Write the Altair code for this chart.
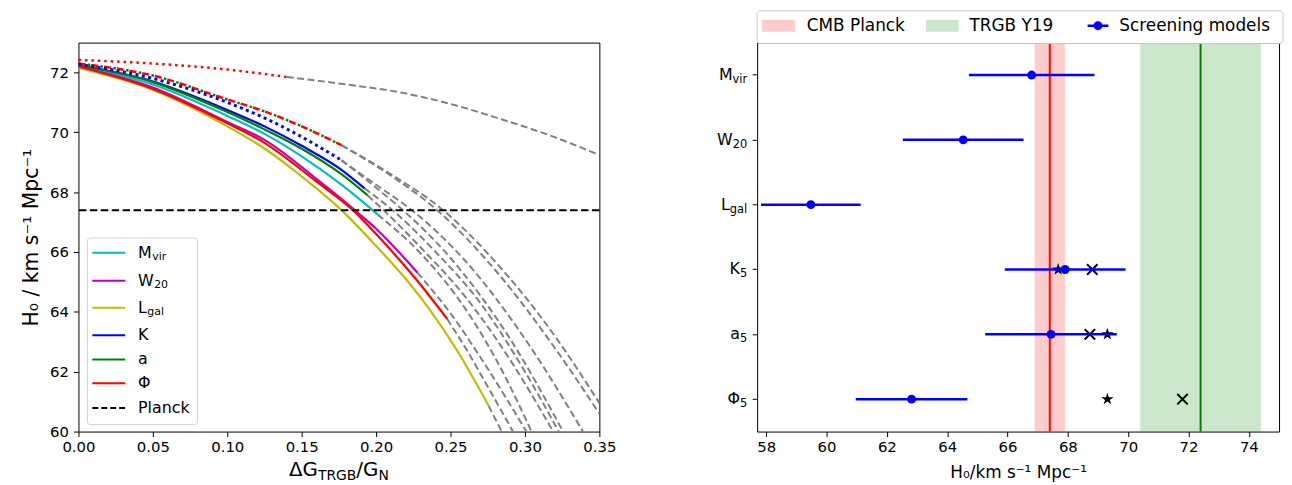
import altair as alt
import pandas as pd

# ===================== DATA =====================
# Left panel: H0 vs dG_TRGB/G_N, solid curves for each proxy
mvir_x = [0, 0.05, 0.10, 0.125, 0.15, 0.1767, 0.2011]
mvir_y = [72.2, 71.6, 70.55, 69.95, 69.2, 68.25, 67.25]
w20_x = [0, 0.05, 0.10, 0.125, 0.1622, 0.1856, 0.20, 0.2278]
w20_y = [72.2, 71.5, 70.35, 69.75, 68.35, 67.4, 66.78, 65.31]
lgal_x = [0, 0.05, 0.10, 0.125, 0.1544, 0.1767, 0.20, 0.2211, 0.2356, 0.2544, 0.2756]
lgal_y = [72.15, 71.42, 70.2, 69.46, 68.35, 67.4, 66.2, 65.03, 64.1, 62.71, 60.86]
k_x = [0, 0.05, 0.10, 0.125, 0.15, 0.1767, 0.1922]
k_y = [72.25, 71.7, 70.75, 70.2, 69.55, 68.75, 68.13]
a_x = [0, 0.05, 0.10, 0.125, 0.15, 0.1767, 0.1944]
a_y = [72.25, 71.68, 70.68, 70.1, 69.45, 68.6, 67.89]
phi_x = [0, 0.05, 0.10, 0.125, 0.16, 0.1844, 0.20, 0.2278, 0.2478]
phi_y = [72.2, 71.45, 70.3, 69.65, 68.35, 67.4, 66.6, 65.03, 63.76]

# dotted / dashed variants
phidot_x = [0, 0.05, 0.10, 0.14]
phidot_y = [72.42, 72.3, 72.1, 71.85]
dashdot_x = [0, 0.05, 0.10, 0.125, 0.15, 0.1767]
dashdot_y = [72.3, 71.9, 71.1, 70.7, 70.2, 69.57]
kdot_x = [0, 0.05, 0.10, 0.125, 0.15, 0.1767]
kdot_y = [72.28, 71.8, 71.0, 70.48, 69.85, 69.07]

# grey dashed continuations
ext_lgal_x = [0.2756, 0.2844]
ext_lgal_y = [60.86, 60.0]
ext_phi_x = [0.2478, 0.26, 0.275, 0.292]
ext_phi_y = [63.76, 62.8, 61.5, 60.0]
ext_w20_x = [0.2278, 0.25, 0.275, 0.301]
ext_w20_y = [65.31, 63.95, 62.1, 60.0]
ext_mvir_x = [0.2011, 0.23, 0.26, 0.285, 0.3044]
ext_mvir_y = [67.25, 65.95, 64.1, 62.0, 60.0]
ext_a_x = [0.1944, 0.205, 0.23, 0.26, 0.29, 0.319]
ext_a_y = [67.89, 67.4, 66.15, 64.5, 62.4, 60.0]
ext_k_x = [0.1922, 0.211, 0.24, 0.27, 0.30, 0.3227]
ext_k_y = [68.13, 67.4, 66.0, 64.3, 62.0, 60.0]
ext_adot_x = [0.1767, 0.20, 0.218, 0.25, 0.29, 0.3256]
ext_adot_y = [69.07, 68.15, 67.4, 65.8, 63.1, 60.0]
ext_kdot_x = [0.1767, 0.20, 0.224, 0.26, 0.30, 0.339]
ext_kdot_y = [69.07, 68.25, 67.4, 65.7, 63.1, 60.0]
ext_phidash_x = [0.1767, 0.21, 0.241, 0.28, 0.32, 0.35]
ext_phidash_y = [69.57, 68.55, 67.4, 65.4, 62.8, 60.6]
ext_adash_x = [0.1767, 0.21, 0.245, 0.285, 0.32, 0.35]
ext_adash_y = [69.57, 68.6, 67.4, 65.4, 63.2, 60.95]
ext_phidot_x = [0.14, 0.18, 0.2167, 0.25, 0.2833, 0.3167, 0.35]
ext_phidot_y = [71.85, 71.6, 71.33, 70.95, 70.45, 69.9, 69.24]

planck_h0 = 67.4
planck_err = 0.5
trgb_h0 = 72.4
trgb_err = 2.0

x_ticks_left = [0.0, 0.05, 0.10, 0.15, 0.20, 0.25, 0.30, 0.35]
y_ticks_left = [60, 62, 64, 66, 68, 70, 72]

# Right panel
proxy_names = ["Mvir", "W20", "Lgal", "K5", "a5", "Phi5"]
proxy_base = ["M", "W", "L", "K", "a", "Φ"]
proxy_sub = ["vir", "20", "gal", "5", "5", "5"]
h0_screen = [66.8, 64.53, 59.48, 67.91, 67.44, 62.82]
h0_err = [2.08, 2.0, 1.65, 2.0, 2.18, 1.85]
star_proxy = ["K5", "a5", "Phi5"]
star_h0 = [67.68, 69.31, 69.31]
cross_proxy = ["K5", "a5", "Phi5"]
cross_h0 = [68.81, 68.73, 71.8]
x_ticks_right = [58, 60, 62, 64, 66, 68, 70, 72, 74]

# ===================== STYLE / LAYOUT =====================
FONT = "DejaVu Sans"
CYAN, MAG, YEL, BLUE, GREEN, RED, GREY = "#00bfbf", "#bf00bf", "#bfbf00", "#0000ff", "#008000", "#ff0000", "#808080"
WL, WR, H = 525, 526, 392

CW = {"M": 0.863, "W": 0.989, "L": 0.557, "K": 0.656, "a": 0.613, "Φ": 0.790,
      "v": 0.592, "i": 0.278, "r": 0.411, "g": 0.635, "l": 0.278, "0": 0.636,
      "2": 0.636, "5": 0.636, "Δ": 0.684, "G": 0.775, "T": 0.611, "R": 0.695,
      "B": 0.686, "N": 0.748, "/": 0.337}


def tw(s, size):
    return sum(CW.get(c, 0.6) for c in s) * size


def long(curves):
    rows = []
    for name, xs, ys in curves:
        for i, (a, b) in enumerate(zip(xs, ys)):
            rows.append({"series": name, "x": a, "y": b, "i": i})
    return pd.DataFrame(rows)


dummy = pd.DataFrame({"d": [0]})

# ===================== LEFT PANEL =====================
xsc = alt.Scale(domain=[0, 0.35], nice=False, zero=False)
ysc = alt.Scale(domain=[60, 73], nice=False, zero=False)
x_axis_l = alt.Axis(values=x_ticks_left, format=".2f", title=None, labelFlush=False,
                    labelOverlap=False, tickSize=5, labelPadding=3, labelFontSize=15)
y_axis_l = alt.Axis(values=y_ticks_left, title="H₀ / km s⁻¹ Mpc⁻¹", titleFontSize=20.5,
                    titlePadding=8, tickSize=5, labelPadding=5, labelFontSize=15)
XL = alt.X("x:Q", scale=xsc, axis=x_axis_l)
YL = alt.Y("y:Q", scale=ysc, axis=y_axis_l)

solid_df = long([("Mvir", mvir_x, mvir_y), ("W20", w20_x, w20_y), ("Lgal", lgal_x, lgal_y),
                 ("K", k_x, k_y), ("a", a_x, a_y), ("Phi", phi_x, phi_y)])
grey_df = long([("e1", ext_lgal_x, ext_lgal_y), ("e2", ext_phi_x, ext_phi_y),
                ("e3", ext_w20_x, ext_w20_y), ("e4", ext_mvir_x, ext_mvir_y),
                ("e5", ext_a_x, ext_a_y), ("e6", ext_k_x, ext_k_y),
                ("e7", ext_adot_x, ext_adot_y), ("e8", ext_kdot_x, ext_kdot_y),
                ("e9", ext_phidash_x, ext_phidash_y), ("e10", ext_adash_x, ext_adash_y),
                ("e11", ext_phidot_x, ext_phidot_y)])

grey = alt.Chart(grey_df).mark_line(color=GREY, strokeWidth=2, strokeDash=[7, 3.5],
                                    interpolate="monotone", clip=True).encode(
    x=XL, y=YL, detail="series:N", order="i:Q")
solid = alt.Chart(solid_df).mark_line(strokeWidth=2.2, interpolate="monotone", clip=True).encode(
    x=XL, y=YL, order="i:Q",
    color=alt.Color("series:N", legend=None,
                    scale=alt.Scale(domain=["Mvir", "W20", "Lgal", "K", "a", "Phi"],
                                    range=[CYAN, MAG, YEL, BLUE, GREEN, RED])))
phidot = alt.Chart(long([("pd", phidot_x, phidot_y)])).mark_line(
    color=RED, strokeWidth=2.5, strokeDash=[2.5, 4], interpolate="monotone").encode(x=XL, y=YL, order="i:Q")
dd_df = long([("dd", dashdot_x, dashdot_y)])
dd_red = alt.Chart(dd_df).mark_line(color=RED, strokeWidth=2.5, strokeDash=[7, 6],
                                    interpolate="monotone").encode(x=XL, y=YL, order="i:Q")
dd_green = alt.Chart(dd_df).mark_line(color=GREEN, strokeWidth=2.5, strokeDash=[2.5, 10.5], strokeDashOffset=3.5,
                                      interpolate="monotone").encode(x=XL, y=YL, order="i:Q")
kdot = alt.Chart(long([("kd", kdot_x, kdot_y)])).mark_line(
    color=BLUE, strokeWidth=3, strokeDash=[3, 3.5], interpolate="monotone").encode(x=XL, y=YL, order="i:Q")
planck_rule = alt.Chart(pd.DataFrame({"y": [planck_h0]})).mark_rule(
    color="black", strokeWidth=2, strokeDash=[7.5, 3.5]).encode(y=YL)

left_layers = [grey, solid, phidot, dd_red, dd_green, kdot, planck_rule]

# legend (left)
left_layers.append(alt.Chart(dummy).mark_rect(fill="white", stroke="#cccccc", strokeWidth=1,
                                              cornerRadius=3, opacity=0.9).encode(
    x=alt.value(9), x2=alt.value(120), y=alt.value(197), y2=alt.value(385)))
leg_rows = [("M", "vir", CYAN, None), ("W", "20", MAG, None), ("L", "gal", YEL, None),
            ("K", "", BLUE, None), ("a", "", GREEN, None), ("Φ", "", RED, None),
            ("Planck", "", "black", [6, 3])]
leg_y = [211.7, 240, 267.3, 295, 319.3, 343.3, 368.3]
for (base, sub, col, dash), ly in zip(leg_rows, leg_y):
    rule_kw = dict(color=col, strokeWidth=2)
    if dash:
        rule_kw["strokeDash"] = dash
    left_layers.append(alt.Chart(dummy).mark_rule(**rule_kw).encode(
        x=alt.value(14), x2=alt.value(47), y=alt.value(ly)))
    left_layers.append(alt.Chart(dummy).mark_text(text=base, align="left", baseline="middle",
                                                  fontSize=16, font=FONT, color="black").encode(
        x=alt.value(60), y=alt.value(ly)))
    if sub:
        left_layers.append(alt.Chart(dummy).mark_text(text=sub, align="left", baseline="middle",
                                                      fontSize=11, font=FONT, color="black").encode(
            x=alt.value(60 + tw(base, 16) + 0.5), y=alt.value(ly + 4)))

# x-axis title with subscripts: ΔG_TRGB / G_N
pieces = [("ΔG", 20, 0), ("TRGB", 14, 4), ("/G", 20, 0), ("N", 14, 4)]
total = sum(tw(s, f) for s, f, _ in pieces)
cx = WL / 2 - total / 2
for s, f, drop in pieces:
    left_layers.append(alt.Chart(dummy).mark_text(text=s, align="left", baseline="alphabetic",
                                                  fontSize=f, font=FONT, color="black").encode(
        x=alt.value(cx), y=alt.value(H + 45 + drop)))
    cx += tw(s, f)

left = alt.layer(*left_layers).properties(width=WL, height=H)

# ===================== RIGHT PANEL =====================
rx = alt.Scale(domain=[57.7, 75.0], nice=False, zero=False)
ry = alt.Scale(domain=proxy_names)
x_axis_r = alt.Axis(values=x_ticks_right, title="H₀/km s⁻¹ Mpc⁻¹", titleFontSize=17,
                    titlePadding=10, labelFlush=False, labelOverlap=False, tickSize=5,
                    labelPadding=3, labelFontSize=15)
y_axis_r = alt.Axis(labels=False, title=None, tickSize=5)
XR = alt.X("h0:Q", scale=rx, axis=x_axis_r)
YR = alt.Y("proxy:N", scale=ry, axis=y_axis_r, sort=proxy_names)

screen_df = pd.DataFrame({"proxy": proxy_names, "h0": h0_screen, "err": h0_err,
                          "base": proxy_base, "sub": proxy_sub})


def band_layers(center, err, col):
    d = pd.DataFrame({"h0": [center], "err": [err]})
    rect = alt.Chart(d).transform_calculate(
        lo="datum.h0 - datum.err", hi="datum.h0 + datum.err").mark_rect(
        color=col, opacity=0.2).encode(x=alt.X("lo:Q", scale=rx, axis=x_axis_r), x2="hi:Q")
    line = alt.Chart(d).mark_rule(color=col, strokeWidth=2).encode(x=XR)
    return rect, line


pl_rect, pl_line = band_layers(planck_h0, planck_err, RED)
tr_rect, tr_line = band_layers(trgb_h0, trgb_err, GREEN)

STAR = ("M0,-1L0.2233,-0.3074L0.9511,-0.309L0.3614,0.1174L0.5878,0.809L0,0.38"
        "L-0.5878,0.809L-0.3614,0.1174L-0.9511,-0.309L-0.2233,-0.3074Z")
XMARK = "M-1,-1L1,1M-1,1L1,-1"

stars = alt.Chart(pd.DataFrame({"proxy": star_proxy, "h0": star_h0})).mark_point(
    shape=STAR, filled=True, color="black", size=170, opacity=1).encode(x=XR, y=YR)
crosses = alt.Chart(pd.DataFrame({"proxy": cross_proxy, "h0": cross_h0})).mark_point(
    shape=XMARK, filled=False, color="black", strokeWidth=2, size=110, opacity=1).encode(x=XR, y=YR)
ebars = alt.Chart(screen_df).transform_calculate(
    lo="datum.h0 - datum.err", hi="datum.h0 + datum.err").mark_rule(
    color=BLUE, strokeWidth=2.5).encode(x=alt.X("lo:Q", scale=rx, axis=x_axis_r), x2="hi:Q", y=YR)
dots = alt.Chart(screen_df).mark_circle(color=BLUE, size=80, opacity=1).encode(x=XR, y=YR)

right_layers = [pl_rect, tr_rect, pl_line, tr_line, stars, crosses, ebars, dots]

# y tick labels with subscripts
for name, base, sub in zip(proxy_names, proxy_base, proxy_sub):
    row = screen_df[screen_df["proxy"] == name]
    sw = tw(sub, 11.5)
    right_layers.append(alt.Chart(row).mark_text(text=base, align="right", baseline="middle",
                                                 fontSize=16, font=FONT, color="black").encode(
        y=YR, x=alt.value(-10 - sw)))
    right_layers.append(alt.Chart(row).mark_text(text=sub, align="left", baseline="middle", dy=5,
                                                 fontSize=11.5, font=FONT, color="black").encode(
        y=YR, x=alt.value(-10 - sw)))

# legend (right, above plot)
right_layers.append(alt.Chart(dummy).mark_rect(fill="white", stroke="#cccccc", strokeWidth=1,
                                               cornerRadius=3).encode(
    x=alt.value(0), x2=alt.value(530), y=alt.value(-32), y2=alt.value(1)))
right_layers.append(alt.Chart(dummy).mark_rect(fill=RED, opacity=0.2).encode(
    x=alt.value(5), x2=alt.value(38), y=alt.value(-23), y2=alt.value(-11)))
right_layers.append(alt.Chart(dummy).mark_rect(fill=GREEN, opacity=0.2).encode(
    x=alt.value(170), x2=alt.value(203), y=alt.value(-23), y2=alt.value(-11)))
right_layers.append(alt.Chart(dummy).mark_rule(color=BLUE, strokeWidth=2.5).encode(
    x=alt.value(333), x2=alt.value(354), y=alt.value(-17)))
right_layers.append(alt.Chart(dummy).mark_circle(color=BLUE, size=80, opacity=1).encode(
    x=alt.value(343.5), y=alt.value(-17)))
for txt, px in [("CMB Planck", 50), ("TRGB Y19", 214), ("Screening models", 365)]:
    right_layers.append(alt.Chart(dummy).mark_text(text=txt, align="left", baseline="middle",
                                                   fontSize=17, font=FONT, color="black").encode(
        x=alt.value(px), y=alt.value(-16.5)))

right = alt.layer(*right_layers).properties(width=WR, height=H)

chart = alt.hconcat(left, right, spacing=159, bounds="flush").properties(
    padding={"left": 13, "top": 0, "right": 0, "bottom": 0}
).configure(font=FONT).configure_view(stroke="black", strokeWidth=1).configure_axis(
    labelFont=FONT, titleFont=FONT, labelColor="black", titleColor="black", tickColor="black",
    titleFontWeight="normal", grid=False, domain=False, tickWidth=1)

chart.save("out.html", embed_options={"renderer": "svg", "actions": False})
